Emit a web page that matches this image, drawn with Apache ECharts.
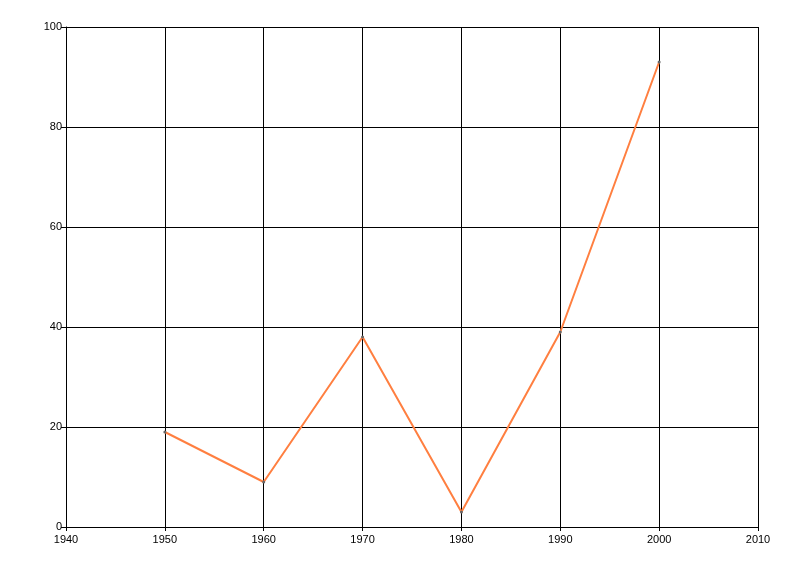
<!DOCTYPE html>
<html><head><meta charset="utf-8">
<script src="https://cdn.jsdelivr.net/npm/echarts@6/dist/echarts.min.js"></script>
<style>html,body{margin:0;padding:0;background:#fff}#c{width:800px;height:576px}</style>
</head><body><div id="c"></div>
<script>
const years = [1950, 1960, 1970, 1980, 1990, 2000];
const values = [19, 9, 38, 3, 39, 93];
const chart = echarts.init(document.getElementById('c'));
const axisText = {color: '#000', fontFamily: 'Liberation Sans, Arial, sans-serif', fontSize: 11};
chart.setOption({
  animation: false,
  grid: {left: 66, right: 42, top: 27, bottom: 49, show: false},
  xAxis: {
    type: 'value', min: 1940, max: 2010, interval: 10,
    axisLine: {show: true, lineStyle: {color: '#000', width: 1}},
    axisTick: {show: true, length: 4, inside: false, lineStyle: {color: '#000'}},
    axisLabel: Object.assign({margin: 7, formatter: v => String(v)}, axisText),
    splitLine: {show: true, lineStyle: {color: '#000', width: 1}}
  },
  yAxis: {
    type: 'value', min: 0, max: 100, interval: 20,
    axisLine: {show: true, lineStyle: {color: '#000', width: 1}},
    axisTick: {show: true, length: 5, lineStyle: {color: '#000'}},
    axisLabel: Object.assign({margin: 4, formatter: v => String(v)}, axisText),
    splitLine: {show: true, lineStyle: {color: '#000', width: 1}}
  },
  series: [{
    type: 'line',
    data: years.map((y, i) => [y, values[i]]),
    showSymbol: true, symbol: 'circle', symbolSize: 3,
    itemStyle: {color: '#666'},
    lineStyle: {color: '#ff7f40', width: 2}
  }]
});
</script></body></html>
